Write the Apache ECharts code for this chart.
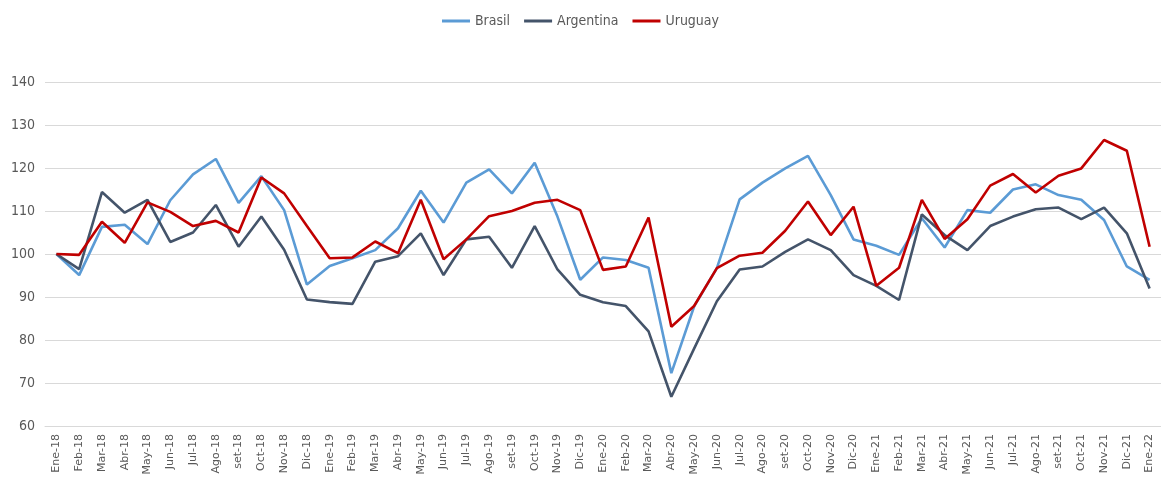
<!DOCTYPE html>
<html>
<head>
<meta charset="utf-8">
<script src="https://cdn.jsdelivr.net/npm/echarts@6/dist/echarts.min.js"></script>
<style>
  html, body { margin: 0; padding: 0; background: #fff; }
  #chart { width: 1161px; height: 480px; }
</style>
</head>
<body>
<div id="chart"></div>
<script>
// meses
var months = ['Ene-18','Feb-18','Mar-18','Abr-18','May-18','Jun-18','Jul-18','Ago-18','set-18','Oct-18','Nov-18','Dic-18',
              'Ene-19','Feb-19','Mar-19','Abr-19','May-19','Jun-19','Jul-19','Ago-19','set-19','Oct-19','Nov-19','Dic-19',
              'Ene-20','Feb-20','Mar-20','Abr-20','May-20','Jun-20','Jul-20','Ago-20','set-20','Oct-20','Nov-20','Dic-20',
              'Ene-21','Feb-21','Mar-21','Abr-21','May-21','Jun-21','Jul-21','Ago-21','set-21','Oct-21','Nov-21','Dic-21',
              'Ene-22'];

var brasil = [100, 95.1, 106.3, 106.8, 102.3, 112.5, 118.5, 122.1, 111.9, 118.1, 110.2, 92.9,
              97.2, 99.0, 100.9, 106.0, 114.7, 107.3, 116.6, 119.7, 114.1, 121.2, 108.7, 94.0,
              99.2, 98.6, 96.8, 72.3, 87.8, 96.7, 112.7, 116.6, 119.9, 122.8, 113.7, 103.4,
              101.9, 99.8, 108.3, 101.5, 110.2, 109.6, 115.0, 116.2, 113.7, 112.6, 107.9, 97.1,
              94.0];

var argentina = [100, 96.5, 114.4, 109.6, 112.6, 102.8, 105.0, 111.4, 101.7, 108.7, 101.0, 89.4,
                 88.8, 88.4, 98.2, 99.5, 104.8, 95.1, 103.4, 104.0, 96.8, 106.5, 96.4, 90.5,
                 88.8, 87.9, 82.0, 66.8, 78.0, 89.0, 96.4, 97.1, 100.5, 103.4, 100.9, 95.1,
                 92.6, 89.3, 109.2, 104.4, 100.9, 106.5, 108.7, 110.4, 110.8, 108.1, 110.8, 104.8,
                 92.0];

var uruguay = [100, 99.8, 107.5, 102.6, 112.0, 109.8, 106.5, 107.7, 105.0, 117.8, 114.1, 106.5,
               99.0, 99.2, 102.9, 100.2, 112.6, 98.8, 103.4, 108.8, 110.0, 111.9, 112.6, 110.2,
               96.3, 97.1, 108.5, 83.1, 87.9, 96.7, 99.6, 100.3, 105.4, 112.2, 104.4, 111.0,
               92.6, 96.8, 112.6, 103.5, 108.1, 115.9, 118.6, 114.3, 118.2, 119.9, 126.5, 124.0,
               101.7];

var chart = echarts.init(document.getElementById('chart'));

function serie(name, data, color) {
    return {
        name: name,
        type: 'line',
        data: data,
        symbol: 'none',
        lineStyle: { color: color, width: 2.6 },
        itemStyle: { color: color }
    };
}

chart.setOption({
    animation: false,
    legend: {
        top: 9,
        left: 'center',
        itemWidth: 28,
        itemHeight: 3,
        itemGap: 14,
        icon: 'rect',
        textStyle: { color: '#595959', fontSize: 14, fontFamily: 'DejaVu Sans Condensed, sans-serif' },
        data: ['Brasil', 'Argentina', 'Uruguay']
    },
    grid: { left: 45, top: 82, width: 1120, height: 344 },
    xAxis: {
        type: 'category',
        data: months,
        boundaryGap: true,
        axisLine: { lineStyle: { color: '#d9d9d9' } },
        axisTick: { show: false },
        axisLabel: {
            interval: 0,
            rotate: 90,
            color: '#595959',
            fontSize: 11,
            margin: 8,
            fontFamily: 'DejaVu Sans, sans-serif'
        }
    },
    yAxis: {
        type: 'value',
        min: 60,
        max: 140,
        interval: 10,
        axisLine: { show: false },
        axisTick: { show: false },
        splitLine: { lineStyle: { color: '#d9d9d9', width: 1 } },
        axisLabel: {
            color: '#595959',
            fontSize: 14,
            margin: 10,
            fontFamily: 'DejaVu Sans Condensed, sans-serif'
        }
    },
    series: [
        serie('Brasil', brasil, '#5B9BD5'),
        serie('Argentina', argentina, '#44546A'),
        serie('Uruguay', uruguay, '#C00000')
    ]
});
</script>
</body>
</html>
